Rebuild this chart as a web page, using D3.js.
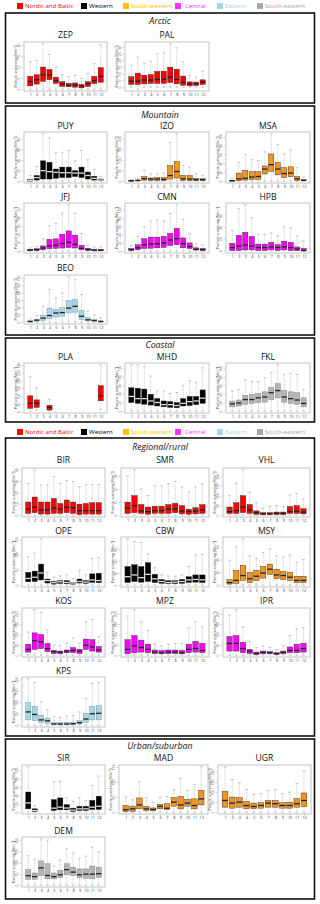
<!DOCTYPE html>
<html><head><meta charset="utf-8">
<script src="https://cdn.jsdelivr.net/npm/d3@7"></script>
<style>body{margin:0;background:#fff}svg{display:block;font-family:"Open Sans",sans-serif}</style>
</head><body><svg id="c" width="320" height="904"></svg>
<script>
const months = [1,2,3,4,5,6,7,8,9,10,11,12];
const regions = ["Nordic and Baltic","Western","South-western","Central","Eastern","South-eastern"];
const boxColors = ["#ff0000","#000000","#f7941d","#ff00ff","#a6d6e6","#b5b5b5"];
const legendColors = ["#ff0000","#000000","#ffc000","#ff33ff","#a6d6e6","#a8a8a8"];
const sectionNames = ["Arctic","Mountain","Coastal","Regional/rural","Urban/suburban"];
const yTitle = "Particle scattering [Mm\u207B\u00B9]";

// monthly stats per station: [lower whisker, Q1, median, Q3, upper whisker]
const ZEP = [[0,1.5,3.5,5.8,12.3],[0,2.3,4.3,6.5,13],[0,3.5,6.5,10,20.5],[0,4.3,6.5,8.9,15.7],[0,2.6,3.8,5.4,10],[0,1.2,2.3,3.4,6.5],[0,1.1,1.8,2.6,5.7],[0,0.9,1.8,2.8,6.2],[0,0.6,1.4,2.2,4.9],[0,1.2,2.5,3.4,7.2],[0,2.5,3.8,5.8,11.5],[0,3.1,5.8,9.7,20]];
const PAL = [[0,2,4.5,7.8,16.5],[-1.5,2,4.5,10.5,22.5],[0,2.5,5.3,9,18],[0,2.8,5.3,9.5,19.5],[0,2.8,5.8,11.8,25],[0,2.8,6,12,25.8],[0,3.5,7.5,15,32.5],[0,2.5,5.8,13.5,29.5],[0,1.5,3.5,8.3,19],[0,1,2.5,4,8.8],[0,1.3,2.5,3.8,7.5],[0,2,3.8,5.5,12]];
const PUY = [[0,0,1.3,3.3,10.7],[0,2,6.7,10.7,28],[0,4,20,38.7,90],[0,4,18,36,82],[0,5.3,16.7,23,54],[0,6.7,16,26.7,55],[0,6.7,16,26.7,58.7],[0,8.7,15.3,20,38.7],[0,6.7,15.3,26.7,58.7],[0,4,10.7,17.3,40.7],[0,2,5.3,9.3,22.7],[0,0.7,2,4,9.3]];
const IZO = [[0,0,1.6,3,8],[0,1.6,3,5,11],[0,5,11,21,50],[0,3,9.7,14.5,34],[0,3,9.7,16,34],[0,3,8,16,37],[0,9.7,26,72.5,182],[0,14.5,45,92,222],[0,3,11,27,72.5],[0,3,9.7,26,66],[0,3,6.5,13,34],[0,3,6.5,11,27]];
const MSA = [[0,0,0.8,1.6,5],[0,0.8,5,18,42],[0,2.4,6.4,24,60],[0,3.2,9,21,48],[0,4,10.4,21,46],[0,16,27,34,66],[0,22,37,61,106],[0,14,27,42,82],[0,8,17,30,61],[0,10,18,32,70],[0,1.6,5,10.4,30],[0,0.8,1.6,3.2,9]];
const JFJ = [[0,0.4,1.2,2,3.7],[0,0.8,1.7,2.9,5.4],[0,1.7,3.7,6.2,14.6],[0,2.9,6.2,14,30],[0,3.3,7,14.6,33],[0,3.7,9,20,45],[0,4.2,10.4,24,55],[0,3.7,8,19,45],[0,1.7,3.3,7,21],[0,0.8,2,3.3,7],[0,0.4,1.2,2,5],[0,0.4,1.2,2,5]];
const CMN = [[0,1.8,3.6,6.4,13.6],[0,3.6,8,15.5,36],[0,6.4,15.5,30,59],[0,7,17,34,73],[0,8,18,34,75],[0,9,20,36,73],[0,13.6,27,43,91],[0,15.5,30,55,112],[0,8,18,32,77],[0,6.4,11,20,41],[0,2.7,4.5,8,18],[0,1.8,3.6,6.4,15.5]];
const HPB = [[0,0,5,12.5,34],[0,0,7.5,26,72],[0,1.2,9.4,31,78],[0,1.2,7.5,24,56],[0,0,5,11,27.5],[0,0,5,11,27.5],[0,1.2,6.2,14,30],[0,0,5,10,25],[0,1.2,6.2,16,40],[0,0,5,14,39],[0,0,2.5,6.2,25],[-1,-0.5,0,3.7,16]];
const BEO = [[0,0.9,1.8,3.6,9],[0,2.7,5.5,8,18],[0,4.5,11,19,43],[0,9,18,38,89],[0,14,25,34,66],[0,16,26,39,79],[0,25,38,59,123],[0,27,43,61,115],[0,7,16,32,75],[0,3.6,6.4,12,30],[0,2.7,4.5,7,20],[0,0.9,1.8,3.6,12]];
const PLA = [[4,22,54,102,224],[11,28,54,76,152],null,[6,11,28,41,80],null,null,null,null,null,null,null,[15,70,102,167,300]];
const MHD = [[0,20,34,54,107],[0,18,29,53,107],[0,16,29,51,104],[0,14,23.5,39,81],[0,12,20,29,47],[0,10,15,23.5,47],[0,8.6,15,22,41],[0,7.8,13,20,43],[0,12,18,29,59],[0,13,22,34,70],[0,15,23.5,34,67],[0,18,30,49,100]];
const FKL = [[0,10,17,23.5,47],[0,12,19,26,51],[0,16,27,37,73],[0,18,27,39,69],[0,20,31,41,69],[0,21,33,45,78],[0,27,43,55,90],[0,31,48,64,108],[0,21,33,48,86],[0,18,29,45,88],[0,16,26,43,86],[0,10,18,31,51]];
const BIR = [[0,1.6,5.3,11.6,28],[0,2.2,7,16,40],[0,1,4.7,11.6,26.5],[0,1,4.7,11.6,26.5],[0,1.6,6.3,14.7,34],[0,1.6,5.3,10.3,28],[0,2.2,7,13.4,30.6],[0,1.6,6.6,11.6,29.7],[0,0.6,4,9.7,25],[0,1,4,10.3,27],[0,1,4,11,27],[0,1,4,11,27]];
const SMR = [[0,1.4,5.4,10,29.7],[0,1.9,7.3,14.9,34.6],[0,1.4,3.2,8.1,20],[0,0.8,2.7,6.2,15],[0,1.4,3.5,6.8,22.4],[0,1.4,3.5,6.8,22.4],[0,1.4,4.6,8,24],[0,1.9,4.6,9,25.7],[0,1,3.2,7.3,21.6],[0,0.8,2.7,4.6,17.6],[0,1,3.2,5.7,21.6],[0,1.4,4,8,24]];
const VHL = [[0,9,18,42,100],[0,9,24,64,164],[0,13,42,100,233],[0,9,27,55,118],[0,5,13,22,64],[0,3.6,7,13,36],[0,3.6,7,13,45],[0,3.6,9,16,49],[0,3.6,9,16,45],[0,9,18,45,104],[0,9,20,49,113],[0,7,16,33,82]];
const OPE = [[0,11,22,42,93],[0,12,26,46,105],[0,17,40,69,152],[0,7,15,20,43],[0,3.4,8,12,26],[0,5.6,11,15,31],[0,4.5,9,15,34],[0,3.4,7,9,22],[0,7,12,20,49],[0,5.6,10,15,34],[0,9,17,37,88],[0,8,15,39,91]];
const CBW = [[0,4.4,14,31,77],[0,6,17,34,73],[0,5,12.5,31,71],[0,6,18,37.5,52],[0,4.4,10.6,18,29],[0,3,6,9.4,17],[0,2.5,4.4,7.5,15],[0,2.5,5,7.5,15],[0,3,6,9.4,17],[0,4.4,8.8,14,31],[0,5,9.4,17,50],[0,4.4,8.8,17,51]];
const MSY = [[0,1.7,4,8.6,39],[0,2.9,7.4,23,60],[0,7.4,15,31,72.5],[0,4,10,20,46],[0,7,14,23,42],[0,11,19,29,51],[0,17,25,33,57],[0,10,16,25,46],[0,8.6,15,21,44],[0,7.4,12.5,20,47],[0,4,7.4,14,36],[0,4,7.4,14,40]];
const KOS = [[0,15,28,53,112],[0,28,70,108,220],[0,32,65,100,208],[0,17,32,57,123],[0,8,17,23,50],[0,7,15,20,45],[0,12,20,25,58],[0,12,23,37,83],[0,8,20,28,58],[0,28,48,78,162],[0,20,40,75,173],[0,15,25,42,90]];
const MPZ = [[0,7,28,75,190],[0,12,45,95,220],[0,15,37,73,162],[0,12,28,53,120],[0,8,15,25,53],[0,7,12,23,45],[0,8,15,25,53],[0,8,15,25,57],[0,7,12,23,57],[0,12,28,53,133],[0,15,32,67,162],[0,12,23,57,137]];
const IPR = [[0,20,57,90,195],[0,20,57,95,220],[0,12,32,62,137],[0,8,20,28,67],[0,3,8,15,37],[0,7,13,20,45],[0,7,12,17,37],[0,3,8,12,28],[0,7,13,20,45],[0,12,23,40,95],[0,12,23,53,128],[0,15,32,58,133]];
const KPS = [[0,23,58,98,203],[0,20,47,83,187],[0,11,23,44,102],[0,8,19,31,67],[0,1.5,5,11,39],[0,1.5,5,11,34],[0,1.5,5,12.5,39],[0,1.5,6,12.5,42],[0,5,11,20,58],[0,12.5,27,52,117],[0,23,50,83,183],[0,23,52,86,187]];
const SIR = [[0,8,22,48,108],[0,1.6,4,8,16],null,null,[0,4,9.6,30,72],[0,5.6,12,34,73],[0,5.6,10,18,34],[0,1.6,4.8,9.6,26],[0,4,8,14,34],[0,4,8,14,28],[0,6.4,12,28,64],[0,6.4,14,38,86]];
const MAD = [[0,3,8,22,50],[0,3,11,20,41],[0,11,24,47,100],[0,5.5,11,19,48],[0,5.5,9,14,33],[0,11,19,26,50],[0,9,13,28,52],[0,20,33,48,74],[0,11,24,52,111],[0,20,30,42,72],[0,11,22,44,92],[0,24,44,72,150]];
const UGR = [[0,25,58,103,225],[0,20,45,75,162],[0,25,50,72,145],[0,17,33,53,112],[0,17,28,45,88],[0,20,33,47,92],[0,25,45,58,108],[0,25,42,58,112],[0,20,33,47,92],[0,20,33,50,100],[0,25,42,67,142],[0,28,58,95,205]];
const DEM = [[0,26,42,69,131],[0,26,38,54,115],[0,42,77,108,206],[0,28,43,95,200],[0,28,38,54,85],[0,34,46,66,111],[0,46,69,95,162],[0,43,58,80,142],[0,34,46,72,120],[0,31,49,72,129],[0,28,49,85,169],[0,34,51,80,149]];

const stationNames = ["ZEP","PAL","PUY","IZO","MSA","JFJ","CMN","HPB","BEO","PLA","MHD","FKL","BIR","SMR","VHL","OPE","CBW","MSY","KOS","MPZ","IPR","KPS","SIR","MAD","UGR","DEM"];
const stationStats = [ZEP,PAL,PUY,IZO,MSA,JFJ,CMN,HPB,BEO,PLA,MHD,FKL,BIR,SMR,VHL,OPE,CBW,MSY,KOS,MPZ,IPR,KPS,SIR,MAD,UGR,DEM];
const stationRegion = [0,0,1,2,2,3,3,3,4,0,1,5,0,0,0,1,1,2,3,3,3,4,1,2,2,5];
const stationTicks = [[0,5,10,15,20],[0,5,10,15,20,25,30],[0,20,40,60,80],[0,50,100,150,200],[0,20,40,60,80,100],[0,10,20,30,40,50],[0,20,40,60,80,100],[0,20,40,60],[0,20,40,60,80,100,120],[0,50,100,150,200,250,300],[0,20,40,60,80,100],[0,20,40,60,80,100],[0,10,20,30,40],[0,10,20,30],[0,50,100,150,200],[0,50,100,150],[0,20,40,60],[0,20,40,60],[0,50,100,150,200],[0,50,100,150,200],[0,50,100,150,200],[0,50,100,150,200],[0,20,40,60,80,100],[0,50,100,150],[0,50,100,150,200],[0,50,100,150,200]];

// ---------- layout ----------
const svg = d3.select("#c");
const sectionBoxes = [
  {top:13, bottom:103, titleY:21},
  {top:106, bottom:335, titleY:115},
  {top:338, bottom:422, titleY:345},
  {top:438, bottom:736, titleY:447},
  {top:739, bottom:899, titleY:746}
];
// rows: [frameTop, frameBottom, labelY]
const rows = {
  a:[42,91,35], m1:[132,183,126], m2:[203,253,197], m3:[275,324,268], c:[363,413,357],
  r1:[468,517,460], r2:[537,587,531], r3:[608,657,601], r4:[677,727,671], u1:[765,814,758], u2:[837,887,831]
};
const colsA = [[24,107],[125,209],[226,310]];
const colsR = [[22,105],[121,209],[223,310]];
const colsU = [[22,105],[119,208],[218,311]];
const placement = {
  ZEP:["a",colsA[0]], PAL:["a",colsA[1]],
  PUY:["m1",colsA[0]], IZO:["m1",colsA[1]], MSA:["m1",colsA[2]],
  JFJ:["m2",colsA[0]], CMN:["m2",colsA[1]], HPB:["m2",colsA[2]],
  BEO:["m3",colsA[0]],
  PLA:["c",colsA[0]], MHD:["c",colsA[1]], FKL:["c",colsA[2]],
  BIR:["r1",colsR[0]], SMR:["r1",colsR[1]], VHL:["r1",colsR[2]],
  OPE:["r2",colsR[0]], CBW:["r2",colsR[1]], MSY:["r2",colsR[2]],
  KOS:["r3",colsR[0]], MPZ:["r3",colsR[1]], IPR:["r3",colsR[2]],
  KPS:["r4",colsR[0]],
  SIR:["u1",colsU[0]], MAD:["u1",colsU[1]], UGR:["u1",colsU[2]],
  DEM:["u2",colsU[0]]
};

// legends
const legendX = [[17,25],[81,89],[123,131],[175,185],[217,225],[257,265]];
function legend(cy){
  const g = svg.append("g");
  regions.forEach((r,i)=>{
    g.append("rect").attr("x",legendX[i][0]).attr("y",cy-3).attr("width",6).attr("height",6).attr("fill",legendColors[i]);
    g.append("text").attr("x",legendX[i][1]).attr("y",cy+2.2).attr("font-size",6.1).attr("fill",legendColors[i]).text(r);
  });
}
legend(6);
legend(432);

// section boxes
sectionBoxes.forEach((s,i)=>{
  svg.append("rect").attr("x",5.5).attr("y",s.top).attr("width",309).attr("height",s.bottom-s.top)
    .attr("fill","none").attr("stroke","#111").attr("stroke-width",1.6);
  svg.append("text").attr("x",160).attr("y",s.titleY+3).attr("text-anchor","middle")
    .attr("font-size",8.8).attr("font-style","italic").attr("fill","#111").text(sectionNames[i]);
});

// panels
stationNames.forEach((name,si)=>{
  const [rowKey,[x0,x1]] = placement[name];
  const [y0,y1,ly] = rows[rowKey];
  const stats = stationStats[si];
  const reg = stationRegion[si];
  const fill = boxColors[reg];
  const medColor = reg===1 ? "#e0e0e0" : "#222";
  const strokeC = reg===5 ? "#777" : (reg===4 ? "#6a8f9b" : "#222");
  const g = svg.append("g");

  g.append("text").attr("x",(x0+x1)/2).attr("y",ly+3).attr("text-anchor","middle")
    .attr("font-size",8.6).attr("fill","#111").text(name);

  const x = d3.scaleLinear().domain([0.02,12.98]).range([x0,x1]);
  const vals = stats.filter(d=>d).flatMap(d=>[d[0],d[4]]);
  const [mn,mx] = d3.extent(vals);
  const pad = (mx-mn)*0.04;
  const y = d3.scaleLinear().domain([mn-pad,mx+pad]).range([y1,y0]);

  g.append("rect").attr("x",x0).attr("y",y0).attr("width",x1-x0).attr("height",y1-y0)
    .attr("fill","#fff").attr("stroke","#c4c4c4").attr("stroke-width",1);

  // y axis
  const ya = g.append("g").attr("transform",`translate(${x0-1},0)`)
    .call(d3.axisLeft(y).tickValues(stationTicks[si]).tickSize(1.5).tickPadding(0));
  ya.select(".domain").remove();
  ya.selectAll("line").attr("stroke","#999").attr("stroke-width",0.5);
  ya.selectAll("text").attr("transform","rotate(-90)").attr("x",0).attr("y",-3.2).attr("dy",0)
    .attr("text-anchor","middle").attr("font-size",3.3).attr("fill","#555").attr("font-family","Open Sans, sans-serif");

  // x axis
  const xa = g.append("g").attr("transform",`translate(0,${y1+0.5})`)
    .call(d3.axisBottom(x).tickValues(months).tickSize(1.2).tickPadding(1));
  xa.select(".domain").remove();
  xa.selectAll("line").attr("stroke","#999").attr("stroke-width",0.5);
  xa.selectAll("text").attr("font-size",3.8).attr("fill","#333").attr("font-family","Open Sans, sans-serif");

  // y title
  g.append("text").attr("transform",`translate(${x0-7.5},${(y0+y1)/2}) rotate(-90)`)
    .attr("text-anchor","middle").attr("font-size",3.6).attr("fill","#444").text(yTitle);

  const bw = (x(1)-x(0))*0.8;
  months.forEach((m,i)=>{
    const d = stats[i];
    if(!d) return;
    const cx = x(m);
    const [lo,q1,med,q3,hi] = d;
    // whiskers
    g.append("line").attr("x1",cx).attr("x2",cx).attr("y1",y(q3)).attr("y2",y(hi))
      .attr("stroke","#9a9a9a").attr("stroke-width",0.5).attr("stroke-dasharray","1,0.8");
    g.append("line").attr("x1",cx).attr("x2",cx).attr("y1",y(q1)).attr("y2",y(lo))
      .attr("stroke","#9a9a9a").attr("stroke-width",0.5).attr("stroke-dasharray","1,0.8");
    [hi,lo].forEach(v=>g.append("line").attr("x1",cx-bw/4).attr("x2",cx+bw/4).attr("y1",y(v)).attr("y2",y(v))
      .attr("stroke","#9a9a9a").attr("stroke-width",0.6));
    // box
    g.append("rect").attr("x",cx-bw/2).attr("y",y(q3)).attr("width",bw).attr("height",Math.max(0.5,y(q1)-y(q3)))
      .attr("fill",fill).attr("stroke",strokeC).attr("stroke-width",0.4);
    g.append("line").attr("x1",cx-bw/2).attr("x2",cx+bw/2).attr("y1",y(med)).attr("y2",y(med))
      .attr("stroke",medColor).attr("stroke-width",1.3);
  });
});
</script></body></html>
